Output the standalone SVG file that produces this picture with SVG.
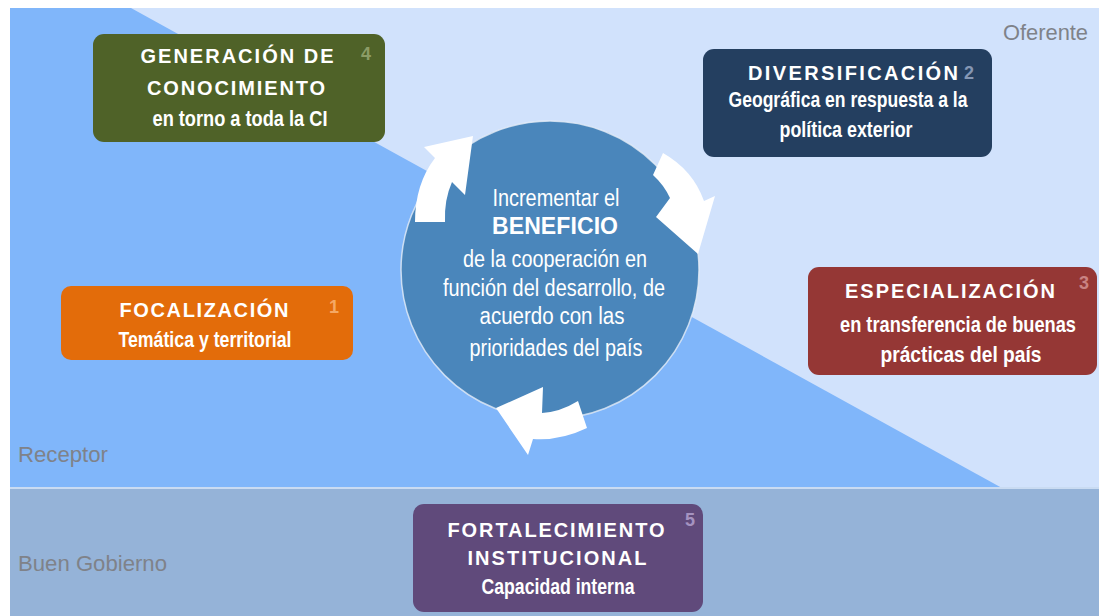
<svg xmlns="http://www.w3.org/2000/svg" width="1099" height="616" viewBox="0 0 1099 616">
<defs>
<style>
.ttl{font-family:"Liberation Sans",Arial,sans-serif;font-weight:bold;font-size:20px;fill:#ffffff;text-anchor:middle}
.sub{font-family:"Liberation Sans Narrow","Liberation Sans",Arial,sans-serif;font-weight:bold;font-size:22px;fill:#ffffff;text-anchor:middle}
.num{font-family:"Liberation Sans Narrow","Liberation Sans",Arial,sans-serif;font-weight:bold;font-size:18px;text-anchor:middle}
.ctr{font-family:"Liberation Sans Narrow","Liberation Sans",Arial,sans-serif;font-size:23px;fill:#ffffff;text-anchor:middle}
.lbl{font-family:"Liberation Sans Narrow","Liberation Sans",Arial,sans-serif;font-size:22px;fill:#7f8289}
.arrow{fill:#ffffff}
</style>
</defs>
<rect x="0" y="0" width="1099" height="616" fill="#ffffff"/>
<g id="background">
<rect x="10" y="8" width="1089" height="480" fill="#80b6fa"/>
<polygon points="131,8 1099,8 1099,488 1002,488" fill="#d1e2fc"/>
<rect x="10" y="488" width="1089" height="128" fill="#95b3d8"/>
<line x1="10" y1="488" x2="1099" y2="488" stroke="#c9dbf2" stroke-width="2"/>
</g>
<g id="labels">
<text class="lbl" x="1088" y="40" text-anchor="end" textLength="85" lengthAdjust="spacingAndGlyphs">Oferente</text>
<text class="lbl" x="18" y="462" textLength="90" lengthAdjust="spacingAndGlyphs">Receptor</text>
<text class="lbl" x="18" y="571" textLength="149" lengthAdjust="spacingAndGlyphs">Buen Gobierno</text>
</g>
<g id="centro">
<circle cx="550" cy="270" r="149" fill="#4a86bb" stroke="#e6eef8" stroke-width="1.5" stroke-opacity="0.8"/>
<text class="ctr" x="556" y="206" textLength="127" lengthAdjust="spacingAndGlyphs">Incrementar el</text>
<text class="ctr" x="555" y="234" font-weight="bold" font-family="Liberation Sans,Arial,sans-serif" font-size="20" textLength="126" lengthAdjust="spacing">BENEFICIO</text>
<text class="ctr" x="555" y="267" textLength="184" lengthAdjust="spacingAndGlyphs">de la cooperación en</text>
<text class="ctr" x="554" y="296" textLength="222" lengthAdjust="spacingAndGlyphs">función del desarrollo, de</text>
<text class="ctr" x="552" y="324" textLength="145" lengthAdjust="spacingAndGlyphs">acuerdo con las</text>
<text class="ctr" x="556" y="356" textLength="173" lengthAdjust="spacingAndGlyphs">prioridades del país</text>
</g>
<g id="connectors">
<path class="arrow" d="M415,222 Q415,184 435,158 L424,147 L473,136 L465,195 L452,182 Q444,200 445,222 Z"/>
<path class="arrow" d="M663,153 Q693,170 704,201 L715,196 L698,254 L656,217 L670,198 Q664,185 653,175 Z"/>
<path class="arrow" d="M578,401 Q560,412 542,413 L543,387 L496,408 L528,455 L533,439 Q560,441 587,428 Z"/>
</g>
<g id="n4-generacion">
<rect x="93" y="34" width="292" height="108" rx="11" fill="#4f6228"/>
<text class="ttl" x="237" y="63" textLength="193" lengthAdjust="spacing">GENERACIÓN DE</text>
<text class="ttl" x="236" y="95" textLength="178" lengthAdjust="spacing">CONOCIMIENTO</text>
<text class="sub" x="240" y="126" textLength="175" lengthAdjust="spacingAndGlyphs">en torno a toda la CI</text>
<text class="num" x="366" y="60" fill="#8c9c66">4</text>
</g>
<g id="n2-diversificacion">
<rect x="703" y="49" width="289" height="108" rx="11" fill="#243f60"/>
<text class="ttl" x="853" y="80" textLength="210" lengthAdjust="spacing">DIVERSIFICACIÓN</text>
<text class="sub" x="848" y="107" textLength="239" lengthAdjust="spacingAndGlyphs">Geográfica en respuesta a la</text>
<text class="sub" x="846" y="137" textLength="133" lengthAdjust="spacingAndGlyphs">política exterior</text>
<text class="num" x="969" y="79" fill="#8597b4">2</text>
</g>
<g id="n1-focalizacion">
<rect x="61" y="286" width="292" height="74" rx="10" fill="#e36c0a"/>
<text class="ttl" x="204" y="317" textLength="169" lengthAdjust="spacing">FOCALIZACIÓN</text>
<text class="sub" x="205" y="347" textLength="173" lengthAdjust="spacingAndGlyphs">Temática y territorial</text>
<text class="num" x="334" y="313" fill="#f5a864">1</text>
</g>
<g id="n3-especializacion">
<rect x="808" y="267" width="289" height="108" rx="11" fill="#953735"/>
<text class="ttl" x="950" y="298" textLength="210" lengthAdjust="spacing">ESPECIALIZACIÓN</text>
<text class="sub" x="958" y="332" font-size="20.5" textLength="236" lengthAdjust="spacingAndGlyphs">en transferencia de buenas</text>
<text class="sub" x="961" y="362" textLength="161" lengthAdjust="spacingAndGlyphs">prácticas del país</text>
<text class="num" x="1084" y="289" fill="#c98383">3</text>
</g>
<g id="n5-fortalecimiento">
<rect x="413" y="504" width="290" height="108" rx="11" fill="#604a7b"/>
<text class="ttl" x="556" y="537" textLength="217" lengthAdjust="spacing">FORTALECIMIENTO</text>
<text class="ttl" x="557" y="565" textLength="179" lengthAdjust="spacing">INSTITUCIONAL</text>
<text class="sub" x="558" y="594" textLength="153" lengthAdjust="spacingAndGlyphs">Capacidad interna</text>
<text class="num" x="690" y="526" fill="#a593c0">5</text>
</g>
</svg>
